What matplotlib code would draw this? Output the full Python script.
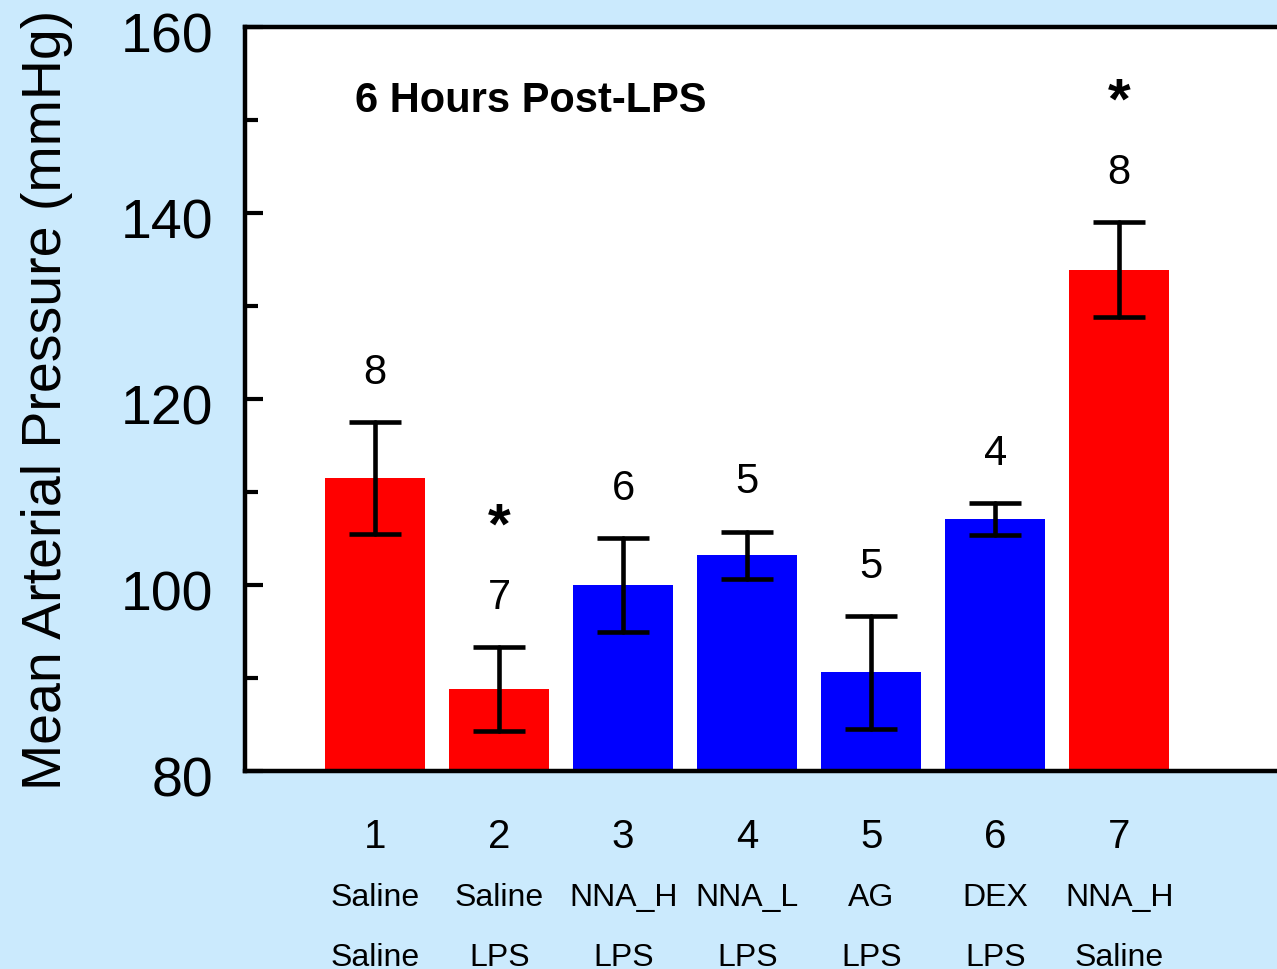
# %%
import numpy as np
from matplotlib import pyplot as plt
from matplotlib import transforms
from matplotlib.ticker import MultipleLocator

plt.rcParams['font.family'] = ['Liberation Sans', 'DejaVu Sans']

# %% values (mean +/- SEM, n per group)
groups = ['1', '2', '3', '4', '5', '6', '7']
treatment = ['Saline', 'Saline', 'NNA_H', 'NNA_L', 'AG', 'DEX', 'NNA_H']
challenge = ['Saline', 'LPS', 'LPS', 'LPS', 'LPS', 'LPS', 'Saline']
map_mean = [111.5, 88.8, 100.0, 103.2, 90.6, 107.1, 133.9]
map_sem = [6.05, 4.5, 5.1, 2.55, 6.1, 1.7, 5.1]
n_rats = [8, 7, 6, 5, 5, 4, 8]
signif = ['', '*', '', '', '', '', '*']
bar_colors = ['#ff0000', '#ff0000', '#0000ff', '#0000ff', '#0000ff', '#0000ff', '#ff0000']

# %%
bg = '#cbeafd'
fig = plt.figure(figsize=(12.77, 9.70), dpi=100, facecolor=bg)
ax = fig.add_axes([245 / 1277, 198 / 970, 1085 / 1277, 744 / 970])

x = np.arange(1, len(groups) + 1)
ax.bar(x, map_mean, width=0.806, color=bar_colors, zorder=2)
_, caps, bars = ax.errorbar(x, map_mean, yerr=map_sem, fmt='none', ecolor='black',
                            elinewidth=3.3, capsize=19, capthick=3.3, zorder=3)
for b in bars:
    b.set_capstyle('round')

for xi, m, s, n, sig in zip(x, map_mean, map_sem, n_rats, signif):
    ax.text(xi, m + s + 4.2, str(n), ha='center', va='baseline', fontsize=30)
    if sig:
        ax.text(xi, m + s + 11.3, sig, ha='center', va='baseline',
                fontsize=42, fontweight='bold')

ax.text(0.1014, 0.887, '6 Hours Post-LPS', transform=ax.transAxes,
        fontsize=30, fontweight='bold', va='baseline')

# group labels under the axis
trans = transforms.blended_transform_factory(ax.transData, ax.transAxes)
for xi, g, t, c in zip(x, groups, treatment, challenge):
    ax.text(xi, -0.102, g, transform=trans, ha='center', va='baseline', fontsize=29)
    ax.text(xi, -0.180, t, transform=trans, ha='center', va='baseline', fontsize=23)
    ax.text(xi, -0.261, c, transform=trans, ha='center', va='baseline', fontsize=23)

ax.set_xlim(-0.05, -0.05 + 1085 / 124)
ax.set_ylim(80, 160)
ax.set_xticks([])
ax.yaxis.set_major_locator(MultipleLocator(20))
ax.yaxis.set_minor_locator(MultipleLocator(10))
ax.tick_params(axis='y', which='major', direction='in', length=13, width=3,
               labelsize=40, pad=23)
ax.tick_params(axis='y', which='minor', direction='in', length=9, width=3)
for side in ['left', 'top', 'bottom', 'right']:
    ax.spines[side].set_linewidth(3.2)

# tick numbers sit a little below their ticks in the original
shift = transforms.ScaledTranslation(0, -5 / 100, fig.dpi_scale_trans)
for lab in ax.get_yticklabels():
    lab.set_transform(lab.get_transform() + shift)

ax.set_ylabel('Mean Arterial Pressure (mmHg)', fontsize=40, labelpad=34)

fig.savefig('out.png', dpi=100, facecolor=fig.get_facecolor())
